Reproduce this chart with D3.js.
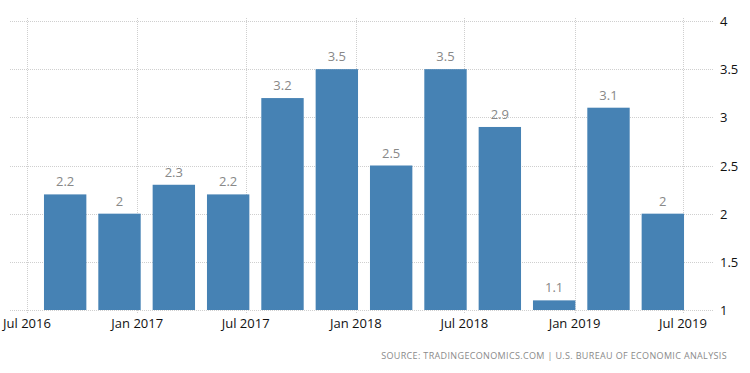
<!DOCTYPE html>
<html lang="en">
<head>
    <meta charset="UTF-8">
    <title>GDP Growth Rate</title>
    <style>
        body { margin: 0; background: #fff; }
        .grid line { stroke: #cfcfcf; stroke-dasharray: 1,1; shape-rendering: crispEdges; }
        .axis text { font-family: "Open Sans", sans-serif; font-size: 13px; fill: #111; }
        .value { font-family: "Open Sans", sans-serif; font-size: 13px; fill: #888; text-anchor: middle; }
        .source { font-family: "Open Sans", sans-serif; font-size: 9px; fill: #8a8a8a; letter-spacing: 0.35px; }
    </style>
</head>
<body>
    <svg width="750" height="373"></svg>
    <script src="https://d3js.org/d3.v7.min.js"></script>
    <script>
        const quarters = ["2016Q3", "2016Q4", "2017Q1", "2017Q2", "2017Q3", "2017Q4",
                          "2018Q1", "2018Q2", "2018Q3", "2018Q4", "2019Q1", "2019Q2"];
        const values = [2.2, 2, 2.3, 2.2, 3.2, 3.5, 2.5, 3.5, 2.9, 1.1, 3.1, 2];
        const tickDates = ["2016-07-01", "2017-01-01", "2017-07-01", "2018-01-01",
                           "2018-07-01", "2019-01-01", "2019-07-01"];
        const tickLabels = ["Jul 2016", "Jan 2017", "Jul 2017", "Jan 2018",
                            "Jul 2018", "Jan 2019", "Jul 2019"];
        const yTicks = [1, 1.5, 2, 2.5, 3, 3.5, 4];

        const svg = d3.select("svg");
        const parse = d3.timeParse("%Y-%m-%d");

        const x = d3.scaleBand()
            .domain(quarters)
            .range([38, 690])
            .paddingInner(0.22)
            .paddingOuter(0.11);

        const xt = d3.scaleTime()
            .domain([parse("2016-07-01"), parse("2019-07-01")])
            .range([27, 683]);

        const y = d3.scaleLinear()
            .domain([1, 4])
            .range([310, 21]);

        // horizontal grid
        svg.append("g").attr("class", "grid")
            .selectAll("line")
            .data(yTicks)
            .enter().append("line")
            .attr("x1", 10).attr("x2", 713)
            .attr("y1", d => Math.round(y(d)) + 0.5)
            .attr("y2", d => Math.round(y(d)) + 0.5);

        // vertical grid
        svg.append("g").attr("class", "grid")
            .selectAll("line")
            .data(tickDates)
            .enter().append("line")
            .attr("x1", d => Math.round(xt(parse(d))) + 0.5)
            .attr("x2", d => Math.round(xt(parse(d))) + 0.5)
            .attr("y1", 18).attr("y2", 314);

        // bars
        svg.append("g")
            .selectAll("rect")
            .data(values)
            .enter().append("rect")
            .attr("x", (d, i) => x(quarters[i]))
            .attr("width", x.bandwidth())
            .attr("y", d => y(d))
            .attr("height", d => y(1) - y(d))
            .attr("fill", "#4682b4");

        // value labels
        svg.append("g")
            .selectAll("text")
            .data(values)
            .enter().append("text")
            .attr("class", "value")
            .attr("x", (d, i) => x(quarters[i]) + x.bandwidth() / 2)
            .attr("y", d => y(d) - 8)
            .text(d => d);

        // x axis labels
        svg.append("g").attr("class", "axis")
            .selectAll("text")
            .data(tickDates)
            .enter().append("text")
            .attr("x", d => xt(parse(d)))
            .attr("y", 328)
            .attr("text-anchor", "middle")
            .text((d, i) => tickLabels[i]);

        // y axis labels
        svg.append("g").attr("class", "axis")
            .selectAll("text")
            .data(yTicks)
            .enter().append("text")
            .attr("x", 720)
            .attr("y", d => y(d) + 5)
            .text(d => d);

        svg.append("text")
            .attr("class", "source")
            .attr("x", 727)
            .attr("y", 359)
            .attr("text-anchor", "end")
            .text("SOURCE: TRADINGECONOMICS.COM | U.S. BUREAU OF ECONOMIC ANALYSIS");
    </script>
</body>
</html>
